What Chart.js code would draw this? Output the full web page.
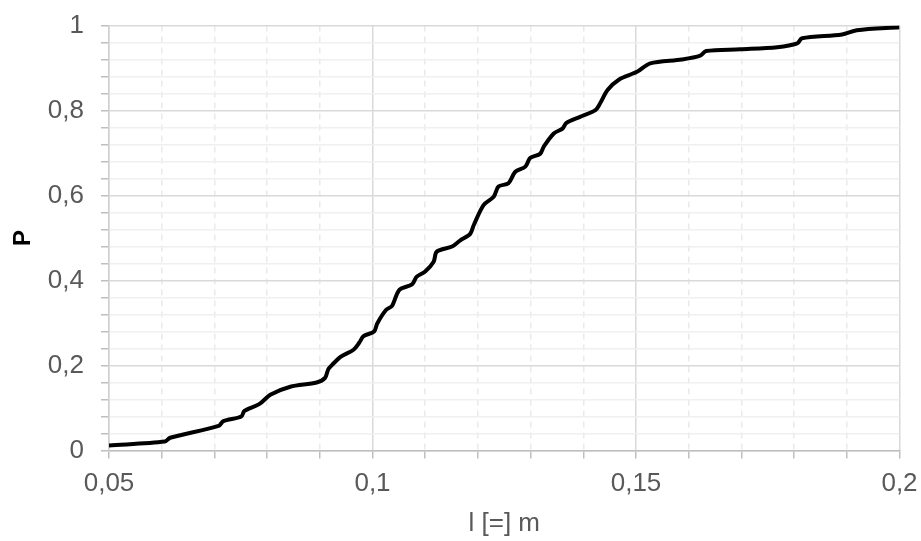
<!DOCTYPE html>
<html lang="en">
<head>
  <meta charset="UTF-8">
  <title>Cumulative distribution of l</title>
  <script src="https://cdn.jsdelivr.net/npm/chart.js"></script>
  <style>
    html, body {
      margin: 0;
      padding: 0;
      background: #ffffff;
    }
    .wrap {
      width: 921px;
      height: 541px;
    }
  </style>
</head>
<body>
  <div class="wrap">
    <canvas id="cdfChart" width="921" height="541"></canvas>
  </div>

  <script>
    // values
    const lengths = [
      0.0500, 0.0606, 0.0616, 0.0708, 0.0717, 0.0751, 0.0757, 0.0785, 0.0806, 0.0844,
      0.0894, 0.0910, 0.0916, 0.0923, 0.0940, 0.0964, 0.0975, 0.0983, 0.1003, 0.1009,
      0.1026, 0.1037, 0.1051, 0.1075, 0.1084, 0.1100, 0.1116, 0.1122, 0.1151, 0.1166,
      0.1185, 0.1192, 0.1211, 0.1230, 0.1239, 0.1258, 0.1271, 0.1290, 0.1299, 0.1318,
      0.1325, 0.1344, 0.1361, 0.1368, 0.1394, 0.1423, 0.1432, 0.1446, 0.1468, 0.1502,
      0.1527, 0.1587, 0.1622, 0.1633, 0.1698, 0.1768, 0.1806, 0.1815, 0.1891, 0.1919,
      0.2000
    ];
    const probs = [
      0.012, 0.021, 0.030, 0.058, 0.069, 0.080, 0.093, 0.109, 0.131, 0.150,
      0.160, 0.171, 0.191, 0.201, 0.221, 0.237, 0.254, 0.269, 0.280, 0.299,
      0.331, 0.340, 0.378, 0.391, 0.409, 0.421, 0.444, 0.468, 0.480, 0.494,
      0.509, 0.530, 0.578, 0.597, 0.621, 0.629, 0.656, 0.668, 0.688, 0.698,
      0.715, 0.746, 0.758, 0.771, 0.785, 0.801, 0.817, 0.848, 0.873, 0.891,
      0.911, 0.920, 0.929, 0.940, 0.944, 0.949, 0.958, 0.970, 0.979, 0.989,
      0.996
    ];
    const xLabelTicks = [0.05, 0.1, 0.15, 0.2];
    const yLabelTicks = [0, 0.2, 0.4, 0.6, 0.8, 1];

    const points = lengths.map((x, i) => ({ x: x, y: probs[i] }));

    function isIn(list, v) {
      return list.some(t => Math.abs(t - v) < 1e-6);
    }
    function comma(v) {
      return String(Math.round(v * 1000) / 1000).replace('.', ',');
    }
    // pin the plot area: no extra room for overhanging labels
    function noOverhang(s) {
      s.paddingLeft = 0;
      s.paddingRight = 0;
      s.paddingTop = 0;
      s.paddingBottom = 0;
    }

    const tickFont = { family: "'Liberation Sans', Arial, sans-serif", size: 26 };

    const ctx = document.getElementById('cdfChart').getContext('2d');
    new Chart(ctx, {
      type: 'line',
      data: {
        datasets: [{
          data: points,
          borderColor: '#000000',
          borderWidth: 4,
          pointRadius: 0,
          tension: 0.3,
          fill: false
        }]
      },
      options: {
        responsive: false,
        animation: false,
        layout: { padding: { left: 0, top: 25.5, right: 21.5, bottom: 0 } },
        plugins: {
          legend: { display: false },
          tooltip: { enabled: false }
        },
        scales: {
          x: {
            type: 'linear',
            min: 0.05,
            max: 0.2,
            afterFit: s => { s.height = 90.5; noOverhang(s); },
            ticks: {
              stepSize: 0.01,
              autoSkip: false,
              maxRotation: 0,
              padding: 10,
              color: '#595959',
              font: tickFont,
              callback: v => isIn(xLabelTicks, v) ? comma(v) : ''
            },
            grid: {
              color: c => (c.tick && isIn(xLabelTicks, c.tick.value)) ? '#d9d9d9' : '#eaeaea',
              lineWidth: 1.5,
              tickLength: 8,
              tickColor: '#bfbfbf'
            },
            border: {
              color: '#bfbfbf',
              width: 1.5,
              dash: c => (c.tick && !isIn(xLabelTicks, c.tick.value)) ? [6, 5] : []
            },
            title: {
              display: true,
              text: 'l [=] m',
              color: '#595959',
              font: tickFont,
              padding: { top: 0, bottom: 2 }
            }
          },
          y: {
            min: 0,
            max: 1,
            afterFit: s => { s.width = 109; noOverhang(s); },
            ticks: {
              stepSize: 0.04,
              autoSkip: false,
              padding: 17,
              color: '#595959',
              font: tickFont,
              callback: v => isIn(yLabelTicks, v) ? comma(v) : ''
            },
            grid: {
              color: c => (c.tick && isIn(yLabelTicks, c.tick.value)) ? '#d9d9d9' : '#f0f0f0',
              lineWidth: 1.5,
              tickLength: 8,
              tickColor: '#bfbfbf'
            },
            border: {
              color: '#d0d0d0',
              width: 1.5
            },
            title: {
              display: true,
              text: 'P',
              color: '#000000',
              font: { family: "'Liberation Sans', Arial, sans-serif", size: 24, weight: 'bold' },
              padding: { top: 9, bottom: 0 }
            }
          }
        }
      }
    });
  </script>
</body>
</html>
